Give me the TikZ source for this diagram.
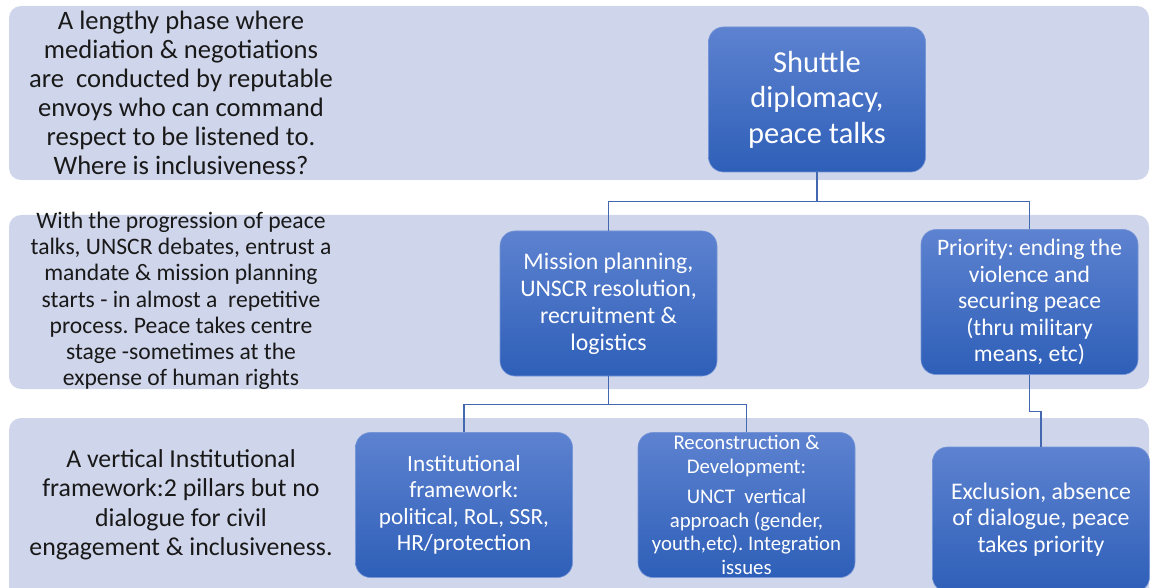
\documentclass[tikz,border=0pt]{standalone}
\usepackage{fontspec}
\setmainfont{Carlito}
\usetikzlibrary{calc}
\frenchspacing

\definecolor{bandblue}{RGB}{207,213,234}
\definecolor{boxtop}{RGB}{93,130,208}
\definecolor{boxbot}{RGB}{46,95,184}
\definecolor{lineblue}{RGB}{68,104,176}

\tikzset{
	band/.style={fill=bandblue, rounded corners=12pt},
	box/.style={rounded corners=15pt, top color=boxtop, bottom color=boxbot, draw=boxtop!85!white, line width=0.6pt, text=white, align=center, minimum width=217pt, minimum height=145pt, inner sep=2pt},
	conn/.style={draw=lineblue, line width=1.3pt},
	note/.style={align=center, text=black!90}
}

\begin{document}
\begin{tikzpicture}[x=1pt, y=-1pt]
		%%%%% START %%%%%
		\useasboundingbox (0, 0) rectangle (1151, 588);
		
		% three bands
		\fill[band] (9, 6) rectangle (1149, 180);
		\fill[band] (9, 215) rectangle (1149, 389);
		\fill[band] (9, 418) rectangle (1149, 610);
		
		% left column
		\node[note, font=\fontsize{26.6}{29}\selectfont] (phase) at (181, 93) {A lengthy phase where\\mediation \& negotiations\\are\ \ conducted by reputable\\envoys who can command\\respect to be listened to.\\Where is inclusiveness?};
		\node[note, font=\fontsize{23.6}{26.2}\selectfont] (progress) at (181, 301) {With the progression of peace\\talks, UNSCR debates, entrust a\\mandate \& mission planning\\starts - in almost a\ \ repetitive\\process. Peace takes centre\\stage -sometimes at the\\expense of human rights};
		\node[note, font=\fontsize{25.8}{29.5}\selectfont] (vertical) at (181, 505) {A vertical Institutional\\framework:2 pillars but no\\dialogue for civil\\engagement \& inclusiveness.};
		
		% boxes
		\node[box, font=\fontsize{30.5}{35.5}\selectfont] (shuttle) at (817, 99.5) {Shuttle\\diplomacy,\\peace talks};
		\node[box, font=\fontsize{23.8}{27}\selectfont] (mission) at (608.5, 303.5) {Mission planning,\\UNSCR resolution,\\recruitment \&\\logistics};
		\node[box, font=\fontsize{23.6}{26.5}\selectfont] (priority) at (1029.5, 302) {Priority: ending the\\violence and\\securing peace\\(thru military\\means, etc)};
		\node[box, font=\fontsize{23.2}{26.5}\selectfont] (inst) at (464, 505) {Institutional\\framework:\\political, RoL, SSR,\\HR/protection};
		\node[box, font=\fontsize{20.8}{23.5}\selectfont] (recon) at (746.5, 505) {Reconstruction \&\\Development:\\[7pt]UNCT\ \ vertical\\approach (gender,\\youth,etc). Integration\\issues};
		\node[box, font=\fontsize{23.8}{26.5}\selectfont] (excl) at (1041, 519.5) {Exclusion, absence\\of dialogue, peace\\takes priority};
		
		% connectors
		\draw[conn] (shuttle.south) -- ++(0, 29) -| (mission.north);
		\draw[conn] (shuttle.south) -- ++(0, 29) -| (priority.north);
		\draw[conn] (mission.south) -- ++(0, 28) -| (inst.north);
		\draw[conn] (mission.south) -- ++(0, 28) -| (recon.north);
		\draw[conn] (priority.south) -- ++(0, 37) -| (excl.north);
		
		%%%%% END %%%%%
	\end{tikzpicture}
\end{document}
